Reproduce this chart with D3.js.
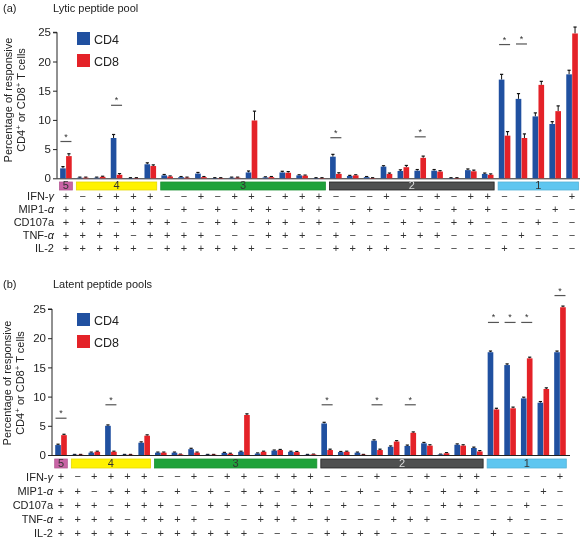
<!DOCTYPE html>
<html><head><meta charset="utf-8">
<script src="https://cdn.jsdelivr.net/npm/d3@7"></script>
<style>body{margin:0;background:#fff}svg{display:block;will-change:transform}text{font-family:"Liberation Sans",Arial,sans-serif}</style>
</head><body><svg id="c" width="580" height="540"></svg>
<script>
// ---- data ----
const functions = ["IFN-γ","MIP1-α","CD107a","TNF-α","IL-2"];
// combination per column: IFN, MIP1, CD107a, TNF, IL-2
const combos = ["+++++","-++++","+-+++","++-++","+++-+","++++-",
  "--+++","-+-++","+--++","-++-+","+-+-+","++--+","-+++-","+-++-","++-+-","+++--",
  "---++","--+-+","-+--+","+---+","--++-","-+-+-","+--+-","-++--","+-+--","++---",
  "----+","---+-","--+--","-+---","+----"];
const groupLabels = ["5","4","3","2","1"];
const groupSizes = [1,5,10,10,5];
const yTicks = [0,5,10,15,20,25];
const series = ["CD4","CD8"];

const lyticCD4 = [1.7,0.1,0.1,6.9,0.05,2.4,0.5,0.2,0.8,0.05,0.1,1.0,0.15,1.0,0.5,0.05,
  3.7,0.4,0.2,2.0,1.25,1.3,1.3,0.05,1.4,0.75,16.9,13.6,10.6,9.3,17.8];
const lyticCD4err = [0.3,0.1,0.1,0.6,0.05,0.25,0.15,0.1,0.2,0.05,0.1,0.25,0.1,0.2,0.1,0.05,
  0.4,0.1,0.1,0.15,0.2,0.2,0.2,0.05,0.2,0.15,0.9,0.9,0.6,0.4,0.7];
const lyticCD8 = [3.8,0.1,0.25,0.6,0.05,2.1,0.3,0.1,0.2,0.05,0.1,9.9,0.2,0.95,0.45,0.05,
  0.75,0.5,0.05,0.75,1.9,3.5,1.15,0.05,1.2,0.6,7.3,6.9,16.0,11.5,24.8];
const lyticCD8err = [0.4,0.1,0.1,0.2,0.05,0.2,0.1,0.1,0.1,0.05,0.1,1.6,0.1,0.2,0.1,0.05,
  0.2,0.1,0.05,0.15,0.3,0.3,0.15,0.05,0.2,0.15,0.7,0.7,0.6,0.9,1.1];
const lyticSigCols = [1,4,17,22,27,28];
const lyticSigLevels = [6.3,12.5,6.95,7.1,22.9,23.0];

const latentCD4 = [1.7,0.05,0.4,5.0,0.05,2.1,0.4,0.4,1.0,0.05,0.35,0.55,0.25,0.75,0.55,0.05,
  5.4,0.5,0.4,2.45,1.4,1.55,2.0,0.1,1.75,1.2,17.6,15.4,9.7,8.95,17.6];
const latentCD4err = [0.15,0.05,0.1,0.15,0.05,0.15,0.1,0.1,0.15,0.05,0.1,0.1,0.1,0.1,0.1,0.05,
  0.2,0.1,0.1,0.15,0.15,0.15,0.15,0.05,0.15,0.15,0.2,0.2,0.2,0.2,0.2];
const latentCD8 = [3.4,0.05,0.55,0.55,0.05,3.3,0.4,0.1,0.4,0.05,0.2,6.85,0.55,0.85,0.5,0.1,
  0.85,0.55,0.05,0.85,2.3,3.8,1.6,0.3,1.6,0.6,7.8,8.0,16.55,11.3,25.3];
const latentCD8err = [0.15,0.05,0.1,0.1,0.05,0.15,0.1,0.05,0.1,0.05,0.1,0.2,0.1,0.1,0.1,0.05,
  0.15,0.1,0.05,0.15,0.15,0.15,0.15,0.1,0.15,0.15,0.2,0.2,0.2,0.2,0.2];
const latentSigCols = [1,4,17,20,22,27,28,29,31];
const latentSigLevels = [6.3,8.6,8.6,8.6,8.6,22.7,22.7,22.7,27.3];

// ---- styles ----
const colors = {CD4:"#2050a0", CD8:"#e42228"};
const groupFill = ["#c964a6","#fff200","#1fa23a","#4f5050","#5ec6f0"];
const groupText = ["#333","#333","#333","#ddd","#333"];

const svg = d3.select("#c");
const root = svg.append("g").attr("opacity",0.999);

function drawPanel(o){
  const g = root.append("g");
  const cols = d3.range(1,32);
  const x = d3.scaleBand().domain(cols).range([o.x0, o.x1]).paddingInner(0).paddingOuter(0);
  const xs = d3.scaleBand().domain(series).range([x.bandwidth()/2-5.8, x.bandwidth()/2+5.8]).paddingInner(0.05);
  const y = d3.scaleLinear().domain([0,25]).range([o.yBase, o.yTop]);

  // titles
  g.append("text").attr("x",3).attr("y",o.titleY).attr("font-size",11).attr("fill","#222").text(o.tag);
  g.append("text").attr("x",53).attr("y",o.titleY).attr("font-size",11).attr("fill","#222").text(o.title);

  // y axis
  const ya = g.append("g").attr("transform",`translate(${o.axisX},0)`)
    .call(d3.axisLeft(y).tickValues(yTicks).tickSize(4).tickPadding(2));
  ya.select(".domain").attr("stroke","#222").attr("d",`M-4,${y(25)}H0V${y(0)}`);
  ya.selectAll(".tick line").attr("stroke","#222");
  ya.selectAll(".tick text").attr("font-size",11.5).attr("fill","#222").attr("font-family","Liberation Sans, Arial, sans-serif");

  // y label
  const cy = o.labelCY;
  const yl = g.append("text").attr("transform",`translate(${o.labelX},${cy}) rotate(-90)`)
    .attr("text-anchor","middle").attr("font-size",11).attr("fill","#222");
  yl.append("tspan").attr("x",0).attr("dy",0).text("Percentage of responsive");
  const l2 = yl.append("tspan").attr("x",0).attr("dy",12.5);
  l2.append("tspan").text("CD4");
  l2.append("tspan").attr("font-size",8).attr("dy",-4).text("+");
  l2.append("tspan").attr("dy",4).text(" or CD8");
  l2.append("tspan").attr("font-size",8).attr("dy",-4).text("+");
  l2.append("tspan").attr("dy",4).text(" T cells");

  // x axis line
  g.append("line").attr("x1",o.axisX).attr("x2",o.axisEnd).attr("y1",y(0)+0.5).attr("y2",y(0)+0.5)
    .attr("stroke","#222").attr("stroke-width",1);

  // bars
  const data = cols.map((c,i)=>({c, vals:[
    {s:"CD4", v:o.cd4[i], e:o.cd4e[i]},
    {s:"CD8", v:o.cd8[i], e:o.cd8e[i]}]}));
  const cg = g.selectAll(".col").data(data).join("g").attr("transform",d=>`translate(${x(d.c)},0)`);
  cg.selectAll("line.err").data(d=>d.vals).join("line").attr("class","err")
    .attr("x1",d=>xs(d.s)+xs.bandwidth()/2).attr("x2",d=>xs(d.s)+xs.bandwidth()/2)
    .attr("y1",d=>y(d.v)).attr("y2",d=>y(d.v+d.e)).attr("stroke","#111").attr("stroke-width",1);
  cg.selectAll("line.cap").data(d=>d.vals).join("line").attr("class","cap")
    .attr("x1",d=>xs(d.s)+xs.bandwidth()/2-1.6).attr("x2",d=>xs(d.s)+xs.bandwidth()/2+1.6)
    .attr("y1",d=>y(d.v+d.e)).attr("y2",d=>y(d.v+d.e)).attr("stroke","#111").attr("stroke-width",1.2);
  cg.selectAll("rect").data(d=>d.vals).join("rect")
    .attr("x",d=>xs(d.s)).attr("width",xs.bandwidth())
    .attr("y",d=>y(d.v)).attr("height",d=>y(0)-y(d.v)).attr("fill",d=>colors[d.s]);

  // significance
  o.sigCols.forEach((c,i)=>{
    const cx = x(c)+x.bandwidth()/2, yy = y(o.sigLevels[i]);
    g.append("line").attr("x1",cx-5.5).attr("x2",cx+5.5).attr("y1",yy).attr("y2",yy).attr("stroke","#555").attr("stroke-width",1.2);
    g.append("text").attr("x",cx).attr("y",yy-2).attr("text-anchor","middle").attr("font-size",9).attr("fill","#333").text("*");
  });

  // legend
  series.forEach((s,i)=>{
    g.append("rect").attr("x",77).attr("y",o.legY+i*22).attr("width",13).attr("height",13).attr("fill",colors[s]);
    g.append("text").attr("x",94).attr("y",o.legY+i*22+11.5).attr("font-size",12.5).attr("fill","#222").text(s);
  });

  // group boxes
  let start = 1;
  groupSizes.forEach((n,i)=>{
    const a = x(start)+2, b = x(start+n-1)+x.bandwidth()-2;
    g.append("rect").attr("x",a).attr("y",o.boxY).attr("width",b-a).attr("height",o.boxH)
      .attr("fill",groupFill[i]).attr("stroke",i===3?"#222":d3.color(groupFill[i]).darker(0.3)).attr("stroke-width",0.8);
    g.append("text").attr("x",(a+b)/2).attr("y",o.boxY+o.boxH/2+0.5).attr("dominant-baseline","middle")
      .attr("text-anchor","middle").attr("font-size",11).attr("fill",groupText[i]).text(groupLabels[i]);
    start += n;
  });

  // sign table
  functions.forEach((f,r)=>{
    const ry = o.rowY0 + r*o.rowStep;
    const parts = f.split(/([γα])/);
    const t = g.append("text").attr("x",o.rowLabelX).attr("y",ry).attr("dominant-baseline","middle")
      .attr("text-anchor","end").attr("font-size",11).attr("fill","#222");
    parts.forEach(p=>{ if(p) t.append("tspan").attr("font-style",(p==="γ"||p==="α")?"italic":null).text(p); });
    g.selectAll(null).data(combos).join("text")
      .attr("x",(d,i)=>x(i+1)+x.bandwidth()/2).attr("y",ry).attr("dominant-baseline","middle")
      .attr("text-anchor","middle").attr("font-size",11).attr("fill","#333")
      .text(d=>d[r]==="+"?"+":"−");
  });
}

drawPanel({tag:"(a)", title:"Lytic peptide pool", titleY:12,
  x0:57.5, x1:580.5, axisX:57, axisEnd:580, yBase:178.3, yTop:32.3,
  labelX:12, labelCY:100, legY:32,
  cd4:lyticCD4, cd4e:lyticCD4err, cd8:lyticCD8, cd8e:lyticCD8err,
  sigCols:lyticSigCols, sigLevels:lyticSigLevels,
  boxY:182, boxH:8, rowY0:197, rowStep:13.1, rowLabelX:54});

drawPanel({tag:"(b)", title:"Latent peptide pools", titleY:288,
  x0:52.7, x1:568.3, axisX:52, axisEnd:570, yBase:455, yTop:309,
  labelX:11, labelCY:383, legY:313,
  cd4:latentCD4, cd4e:latentCD4err, cd8:latentCD8, cd8e:latentCD8err,
  sigCols:latentSigCols, sigLevels:latentSigLevels,
  boxY:459, boxH:9, rowY0:477.5, rowStep:14.2, rowLabelX:53});
</script></body></html>
